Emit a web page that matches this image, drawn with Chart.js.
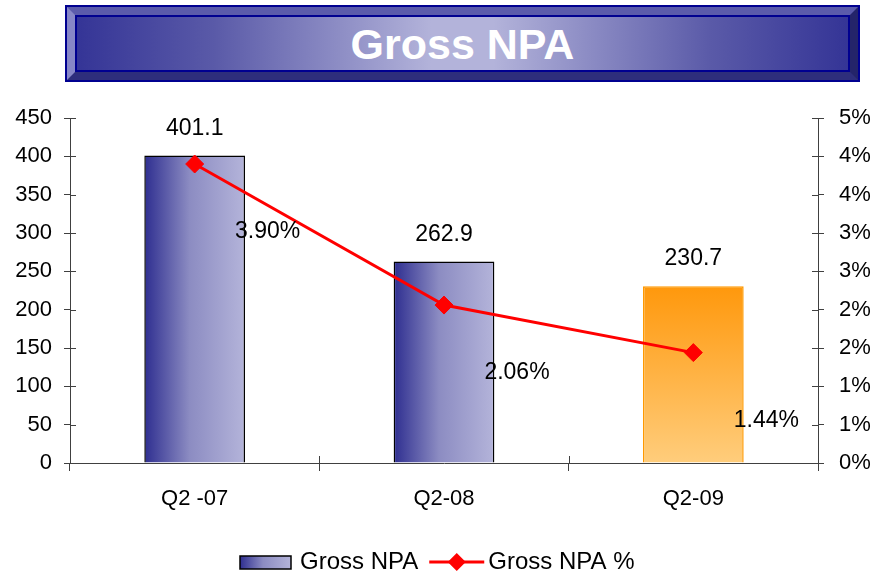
<html>
<head>
<meta charset="UTF-8">
<script src="https://cdn.jsdelivr.net/npm/chart.js@4.4.0/dist/chart.umd.min.js"></script>
<style>
  body { margin: 0; background: #fff; }
  #wrap { position: relative; width: 874px; height: 574px; }
  #chart { position: absolute; left: 0; top: 0; }
  #banner {
    position: absolute; left: 67px; top: 7px; width: 775px; height: 57px;
    border: 8px solid;
    border-color: #5b5bab #24246a #2e2e7c #8787c7;
    outline: 2px solid #000090;
    box-shadow: inset 0 0 0 2px #000090;
    background: linear-gradient(to right, #343496, #5a5aa8 18%, #b3b3da 46%, #b3b3da 54%, #5a5aa8 82%, #343496);
    color: #fff; font: bold 43px 'Liberation Sans', Arial, sans-serif;
    text-align: center; line-height: 59px; z-index: 2;
  }
</style>
</head>
<title>Gross NPA</title>
<body>
<div id="wrap">
  <canvas id="chart" width="874" height="574"></canvas>
  <div id="banner">Gross NPA</div>
</div>
<script>
 // data
 var categories = ["Q2 -07", "Q2-08", "Q2-09"];
 var grossNpa = [401.1, 262.9, 230.7];
 var grossNpaPct = [3.90, 2.06, 1.44];
 var leftMax = 450, leftStep = 50;
 var rightMax = 4.5, rightStep = 0.5;

 var FONT = "'Liberation Sans', Arial, sans-serif";
 var AXIS = "#404040";

 function barFill(c) {
     var chart = c.chart, a = chart.chartArea;
     if (!a) return "#6a6ab0";
     var i = c.dataIndex, g;
     if (i === 2) {
	 var top = chart.scales.y.getPixelForValue(grossNpa[i]);
	 g = chart.ctx.createLinearGradient(0, top, 0, a.bottom);
	 g.addColorStop(0, "#ff980c");
	 g.addColorStop(1, "#ffcd7c");
	 return g;
     }
     var cx = chart.scales.x.getPixelForValue(i);
     var half = (a.right - a.left) / categories.length * 0.404 / 2;
     g = chart.ctx.createLinearGradient(cx - half, 0, cx + half, 0);
     g.addColorStop(0, "#2e2e90");
     g.addColorStop(0.45, "#8c8cc2");
     g.addColorStop(1, "#b4b4da");
     return g;
 }

 // tick marks that cross the axis lines
 var innerTicks = {
     id: "innerTicks",
     afterDraw: function(chart) {
	 var ctx = chart.ctx, a = chart.chartArea, s = chart.scales;
	 ctx.save();
	 ctx.strokeStyle = AXIS; ctx.lineWidth = 1;
	 ctx.beginPath();
	 s.y.ticks.forEach(function(t, i) {
	     var p = Math.round(s.y.getPixelForTick(i)) + 0.5;
	     ctx.moveTo(a.left, p); ctx.lineTo(a.left + 6, p);
	 });
	 s.y1.ticks.forEach(function(t, i) {
	     var p = Math.round(s.y1.getPixelForTick(i)) + 0.5;
	     ctx.moveTo(a.right - 6, p); ctx.lineTo(a.right, p);
	 });
	 for (var i = 0; i <= categories.length; i++) {
	     var px = Math.round(s.x.getPixelForValue(i - 0.5)) + 0.5;
	     ctx.moveTo(px, a.bottom - 7); ctx.lineTo(px, a.bottom);
	 }
	 ctx.stroke();
	 ctx.restore();
     }
 };

 var valueLabels = {
     id: "valueLabels",
     afterDatasetsDraw: function(chart) {
	 var ctx = chart.ctx, s = chart.scales;
	 ctx.save();
	 ctx.fillStyle = "#000";
	 ctx.font = "23px " + FONT;
	 ctx.textAlign = "center";
	 ctx.textBaseline = "middle";
	 grossNpa.forEach(function(v, i) {
	     ctx.fillText(v.toFixed(1), s.x.getPixelForValue(i), s.y.getPixelForValue(v) - 27);
	 });
	 grossNpaPct.forEach(function(v, i) {
	     ctx.fillText(v.toFixed(2) + "%", s.x.getPixelForValue(i) + 73, s.y1.getPixelForValue(v) + 68);
	 });
	 ctx.restore();
     }
 };

 var customLegend = {
     id: "customLegend",
     afterDraw: function(chart) {
	 var ctx = chart.ctx, y = 562;
	 ctx.save();
	 ctx.font = "24px " + FONT;
	 ctx.textBaseline = "middle";
	 ctx.textAlign = "left";
	 var x = 240;
	 var g = ctx.createLinearGradient(x, 0, x + 51, 0);
	 g.addColorStop(0, "#2e2e90"); g.addColorStop(0.45, "#8c8cc2"); g.addColorStop(1, "#b4b4da");
	 ctx.fillStyle = g;
	 ctx.fillRect(x, y - 6, 51, 13);
	 ctx.strokeStyle = "#000"; ctx.lineWidth = 1.5;
	 ctx.strokeRect(x, y - 6, 51, 13);
	 ctx.fillStyle = "#000";
	 ctx.fillText("Gross NPA", x + 60, y);
	 x = x + 60 + ctx.measureText("Gross NPA").width + 11;
	 ctx.strokeStyle = "#ff0000"; ctx.lineWidth = 3;
	 ctx.beginPath(); ctx.moveTo(x, y); ctx.lineTo(x + 55, y); ctx.stroke();
	 ctx.fillStyle = "#ff0000";
	 ctx.beginPath();
	 ctx.moveTo(x + 27.5 - 9, y); ctx.lineTo(x + 27.5, y - 9);
	 ctx.lineTo(x + 27.5 + 9, y); ctx.lineTo(x + 27.5, y + 9);
	 ctx.closePath(); ctx.fill();
	 ctx.fillStyle = "#000";
	 ctx.fillText("Gross NPA %", x + 59, y);
	 ctx.restore();
     }
 };

 var ctx = document.getElementById("chart").getContext("2d");
 var chart = new Chart(ctx, {
     type: "bar",
     data: {
	 labels: categories,
	 datasets: [{
	     type: "line",
	     label: "Gross NPA %",
	     data: grossNpaPct,
	     yAxisID: "y1",
	     order: 0,
	     borderColor: "#ff0000",
	     borderWidth: 3,
	     tension: 0,
	     pointStyle: "rectRot",
	     pointRadius: 9,
	     pointBackgroundColor: "#ff0000",
	     pointBorderColor: "#ff0000",
	     pointBorderWidth: 1
	 }, {
	     label: "Gross NPA",
	     data: grossNpa,
	     yAxisID: "y",
	     order: 1,
	     backgroundColor: barFill,
	     borderColor: function(c) { return c.dataIndex === 2 ? "#ff9900" : "#000"; },
	     borderWidth: 1.5,
	     categoryPercentage: 1,
	     barPercentage: 0.404
	 }]
     },
     options: {
	 responsive: false,
	 animation: false,
	 layout: { padding: { top: 118, left: 0, right: 0, bottom: 0 } },
	 plugins: { legend: { display: false }, tooltip: { enabled: false } },
	 scales: {
	     x: {
		 offset: true,
		 afterFit: function(s) { s.height = 111; },
		 grid: { display: true, drawOnChartArea: false, drawTicks: true, tickLength: 8, color: AXIS, offset: true },
		 border: { display: true, color: AXIS, width: 1 },
		 ticks: { color: "#000", font: { family: FONT, size: 22 }, padding: 15, maxRotation: 0 }
	     },
	     y: {
		 position: "left",
		 min: 0, max: leftMax,
		 afterFit: function(s) { s.width = 70; },
		 grid: { display: true, drawOnChartArea: false, drawTicks: true, tickLength: 6, color: AXIS },
		 border: { display: true, color: AXIS, width: 1 },
		 ticks: { stepSize: leftStep, color: "#000", font: { family: FONT, size: 22 }, padding: 12 }
	     },
	     y1: {
		 position: "right",
		 min: 0, max: rightMax,
		 afterFit: function(s) { s.width = 56; },
		 grid: { display: true, drawOnChartArea: false, drawTicks: true, tickLength: 6, color: AXIS },
		 border: { display: true, color: AXIS, width: 1 },
		 ticks: {
		     stepSize: rightStep, color: "#000", font: { family: FONT, size: 22 }, padding: 15,
		     callback: function(v) { return Math.round(v) + "%"; }
		 }
	     }
	 }
     },
     plugins: [innerTicks, valueLabels, customLegend]
 });
</script>
</body>
</html>
